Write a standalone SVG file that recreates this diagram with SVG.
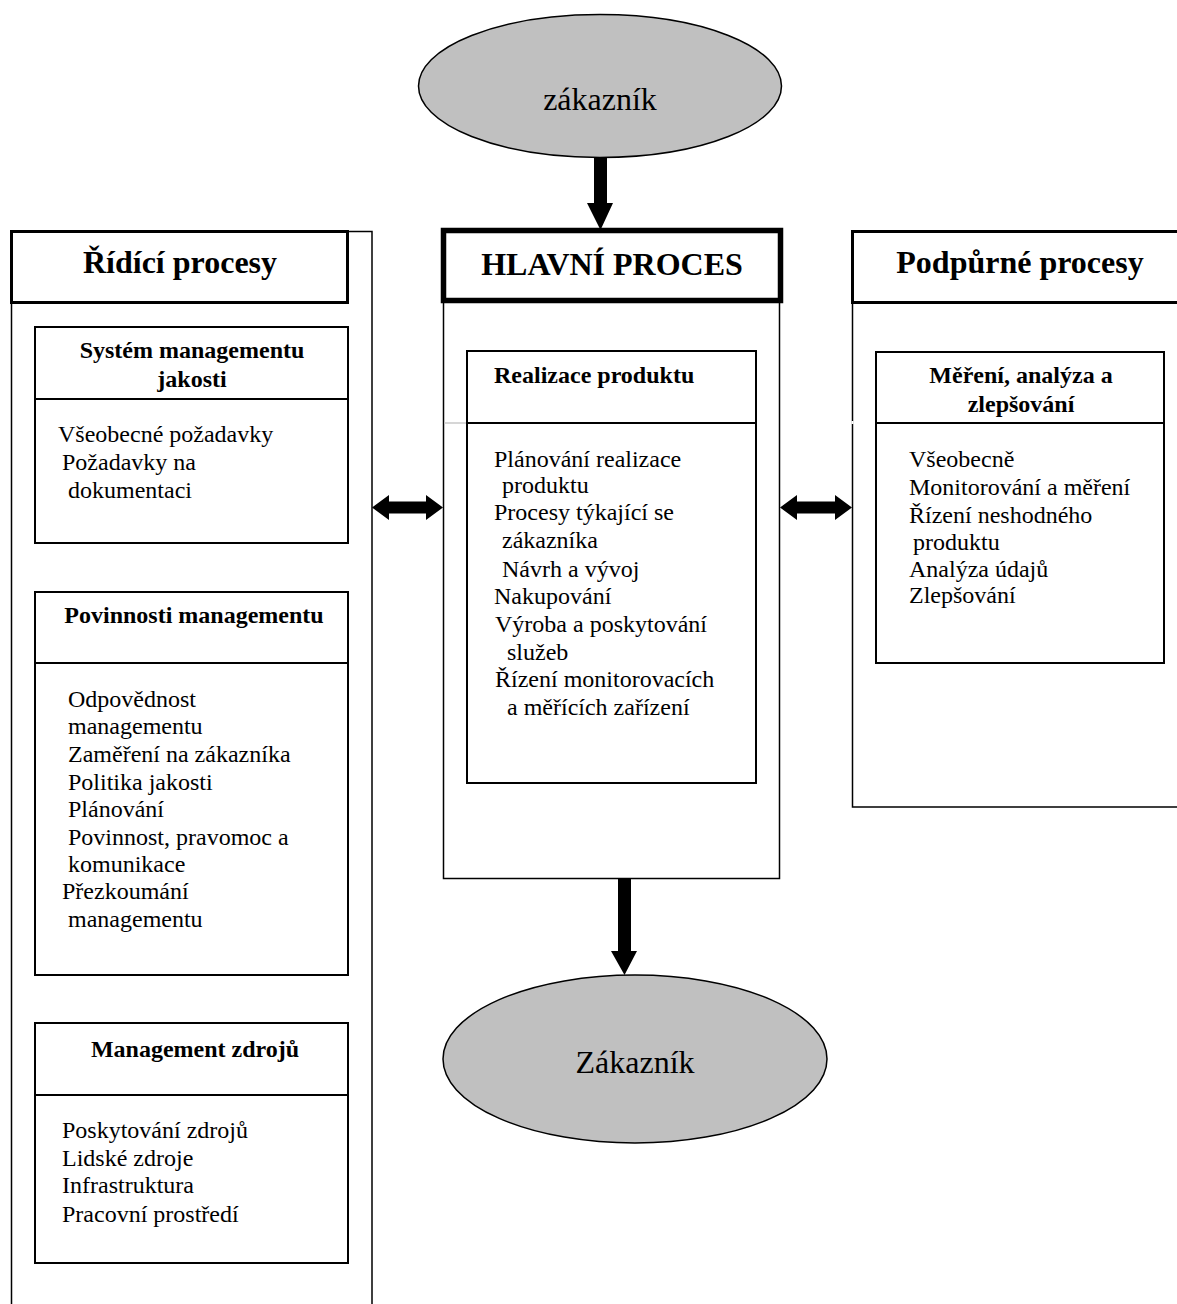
<svg xmlns="http://www.w3.org/2000/svg" width="1177" height="1304" viewBox="0 0 1177 1304">
  <style>
    .big { font-family: "Liberation Serif", "Times New Roman", serif; font-size: 32px; fill: #000; }
    .bigb { font-family: "Liberation Serif", "Times New Roman", serif; font-size: 32px; font-weight: bold; fill: #000; }
    .sub { font-family: "Liberation Serif", "Times New Roman", serif; font-size: 24px; font-weight: bold; fill: #000; }
    .txt { font-family: "Liberation Serif", "Times New Roman", serif; font-size: 24px; fill: #000; }
    .col { fill: none; stroke: #000; stroke-width: 1.5; }
    .box { fill: none; stroke: #000; stroke-width: 2; }
    .head { fill: #fff; stroke: #000; stroke-width: 3; }
    .oval { fill: #c0c0c0; stroke: #000; stroke-width: 1.5; }
    .arrow { fill: #000; stroke: none; }
  </style>
  <rect width="1177" height="1304" fill="#fff"/>

  <!-- Left column: control processes -->
  <g id="ridici-procesy">
    <path class="col" d="M11.5,1304 V231.5 H372 V1304"/>
    <rect class="head" x="11.5" y="231.5" width="336" height="71"/>
    <text class="bigb" x="180" y="273" text-anchor="middle">Řídící procesy</text>
  </g>

  <g id="system-managementu">
    <rect class="box" x="35" y="327" width="313" height="216"/>
    <line class="box" x1="35" y1="399" x2="348" y2="399"/>
    <text class="sub" x="192" y="358" text-anchor="middle">Systém managementu</text>
    <text class="sub" x="192" y="387" text-anchor="middle">jakosti</text>
    <text class="txt" x="58" y="442">Všeobecné požadavky</text>
    <text class="txt" x="62" y="470">Požadavky na</text>
    <text class="txt" x="68" y="498">dokumentaci</text>
  </g>

  <g id="povinnosti-managementu">
    <rect class="box" x="35" y="592" width="313" height="383"/>
    <line class="box" x1="35" y1="663" x2="348" y2="663"/>
    <text class="sub" x="194" y="623" text-anchor="middle">Povinnosti managementu</text>
    <text class="txt" x="68" y="707">Odpovědnost</text>
    <text class="txt" x="68" y="734">managementu</text>
    <text class="txt" x="68" y="762">Zaměření na zákazníka</text>
    <text class="txt" x="68" y="790">Politika jakosti</text>
    <text class="txt" x="68" y="817">Plánování</text>
    <text class="txt" x="68" y="845">Povinnost, pravomoc a</text>
    <text class="txt" x="68" y="872">komunikace</text>
    <text class="txt" x="62" y="899">Přezkoumání</text>
    <text class="txt" x="68" y="927">managementu</text>
  </g>

  <g id="management-zdroju">
    <rect class="box" x="35" y="1023" width="313" height="240"/>
    <line class="box" x1="35" y1="1095" x2="348" y2="1095"/>
    <text class="sub" x="195" y="1057" text-anchor="middle">Management zdrojů</text>
    <text class="txt" x="62" y="1138">Poskytování zdrojů</text>
    <text class="txt" x="62" y="1166">Lidské zdroje</text>
    <text class="txt" x="62" y="1193">Infrastruktura</text>
    <text class="txt" x="62" y="1222">Pracovní prostředí</text>
  </g>

  <!-- Centre column: main process -->
  <g id="hlavni-proces">
    <rect class="col" x="443.5" y="231" width="336" height="647.5"/>
    <rect fill="#fff" stroke="#000" stroke-width="5.5" x="443.5" y="230.5" width="337" height="70"/>
    <text class="bigb" x="612" y="275" text-anchor="middle">HLAVNÍ PROCES</text>
  </g>

  <g id="realizace-produktu">
    <line stroke="#c8c8c8" stroke-width="1.5" x1="444" y1="423" x2="467" y2="423"/>
    <rect class="box" x="467" y="351" width="289" height="432"/>
    <line class="box" x1="467" y1="423" x2="756" y2="423"/>
    <text class="sub" x="494" y="383">Realizace produktu</text>
    <text class="txt" x="494" y="467">Plánování realizace</text>
    <text class="txt" x="502" y="493">produktu</text>
    <text class="txt" x="494" y="520">Procesy týkající se</text>
    <text class="txt" x="502" y="548">zákazníka</text>
    <text class="txt" x="502" y="577">Návrh a vývoj</text>
    <text class="txt" x="494" y="604">Nakupování</text>
    <text class="txt" x="495" y="632">Výroba a poskytování</text>
    <text class="txt" x="507" y="660">služeb</text>
    <text class="txt" x="495" y="687">Řízení monitorovacích</text>
    <text class="txt" x="507" y="715">a měřících zařízení</text>
  </g>

  <!-- Right column: support processes -->
  <g id="podpurne-procesy">
    <path class="col" d="M1177,807 H852.5 V231.5 H1177"/>
    <line stroke="#fff" stroke-width="2" x1="852.5" y1="421" x2="852.5" y2="424"/>
    <rect class="head" x="852.5" y="231.5" width="330" height="71"/>
    <text class="bigb" x="1020" y="273" text-anchor="middle">Podpůrné procesy</text>
  </g>

  <g id="mereni-analyza">
    <rect class="box" x="876" y="352" width="288" height="311"/>
    <line class="box" x1="876" y1="423" x2="1164" y2="423"/>
    <text class="sub" x="1021" y="383" text-anchor="middle">Měření, analýza a</text>
    <text class="sub" x="1021" y="412" text-anchor="middle">zlepšování</text>
    <text class="txt" x="909" y="467">Všeobecně</text>
    <text class="txt" x="909" y="495">Monitorování a měření</text>
    <text class="txt" x="909" y="523">Řízení neshodného</text>
    <text class="txt" x="913" y="550">produktu</text>
    <text class="txt" x="909" y="577">Analýza údajů</text>
    <text class="txt" x="909" y="603">Zlepšování</text>
  </g>

  <!-- Customers -->
  <g id="zakaznik-vstup">
    <ellipse class="oval" cx="600" cy="86" rx="181.5" ry="71.5"/>
    <text class="big" x="600" y="110" text-anchor="middle">zákazník</text>
  </g>

  <g id="zakaznik-vystup">
    <ellipse class="oval" cx="635" cy="1059" rx="192" ry="84"/>
    <text class="big" x="635" y="1073" text-anchor="middle">Zákazník</text>
  </g>

  <!-- Connectors -->
  <g id="connectors">
    <polygon class="arrow" points="594,157 607,157 607,203 613,203 600.5,230 587,203 594,203"/>
    <polygon class="arrow" points="618,879 631,879 631,951 637,951 624.5,975 611,951 618,951"/>
    <polygon class="arrow" points="372,507.5 389,495 389,501.5 426,501.5 426,495 443,507.5 426,520 426,513.5 389,513.5 389,520"/>
    <polygon class="arrow" points="780,507.5 797,495 797,501.5 835,501.5 835,495 852,507.5 835,520 835,513.5 797,513.5 797,520"/>
  </g>
</svg>
